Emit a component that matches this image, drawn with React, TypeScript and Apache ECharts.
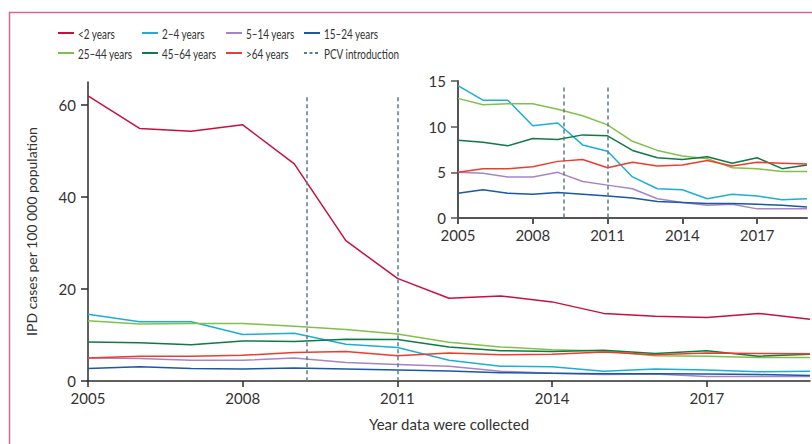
import React, { useEffect, useRef } from "react";
import * as echarts from "echarts";

// Invasive pneumococcal disease incidence by age group
const years = [2005, 2006, 2007, 2008, 2009, 2010, 2011, 2012, 2013, 2014, 2015, 2016, 2017, 2018, 2019];

const under2 = [62.0, 54.9, 54.3, 55.7, 47.2, 30.5, 22.3, 18.0, 18.5, 17.2, 14.7, 14.1, 13.8, 14.7, 13.4];
const age2to4 = [14.5, 12.9, 12.9, 10.1, 10.4, 8.0, 7.3, 4.5, 3.2, 3.1, 2.1, 2.6, 2.4, 2.0, 2.1];
const age5to14 = [5.0, 4.9, 4.5, 4.5, 5.0, 4.0, 3.6, 3.2, 2.1, 1.7, 1.4, 1.5, 1.0, 1.0, 1.0];
const age15to24 = [2.7, 3.1, 2.7, 2.6, 2.8, 2.6, 2.4, 2.2, 1.8, 1.7, 1.6, 1.6, 1.5, 1.4, 1.2];
const age25to44 = [13.1, 12.4, 12.5, 12.5, 11.9, 11.2, 10.2, 8.4, 7.4, 6.8, 6.5, 5.5, 5.4, 5.1, 5.1];
const age45to64 = [8.5, 8.3, 7.9, 8.7, 8.6, 9.1, 9.0, 7.4, 6.6, 6.4, 6.7, 6.0, 6.6, 5.4, 5.8];
const over64 = [5.0, 5.4, 5.4, 5.6, 6.2, 6.4, 5.5, 6.1, 5.7, 5.8, 6.3, 5.7, 6.1, 6.0, 5.9];

// Vaccine introduction dates (PCV7, then PCV13)
const pcvYears = [2009.25, 2011];

const xTicks = [2005, 2008, 2011, 2014, 2017];
const mainYTicks = [0, 20, 40, 60];

const groups = [
  { name: "<2 years", color: "#c8103e", values: under2, inset: false },
  { name: "2–4 years", color: "#1cafd6", values: age2to4, inset: true },
  { name: "5–14 years", color: "#a585c8", values: age5to14, inset: true },
  { name: "15–24 years", color: "#1b58a5", values: age15to24, inset: true },
  { name: "25–44 years", color: "#80c14a", values: age25to44, inset: true },
  { name: "45–64 years", color: "#0f7a45", values: age45to64, inset: true },
  { name: ">64 years", color: "#f03b2f", values: over64, inset: true },
];

const PCV_NAME = "PCV introduction";
const PCV_COLOR = "#5d7a8b";
const PCV_DASH = [4, 3];

// Legend: four columns of two entries each
const legendColumns = [
  ["<2 years", "25–44 years"],
  ["2–4 years", "45–64 years"],
  ["5–14 years", ">64 years"],
  ["15–24 years", PCV_NAME],
];

const FONT = "Lato, 'Open Sans', sans-serif";
const TEXT = "#333333";

function buildLegend() {
  const colX = [58, 142, 226, 304];
  const rowY = [33, 53];
  const elements: any[] = [];
  legendColumns.forEach((col, c) => {
    col.forEach((name, r) => {
      const g = groups.find((d) => d.name === name);
      const isPcv = name === PCV_NAME;
      const color = g ? g.color : PCV_COLOR;
      const x = colX[c];
      const y = rowY[r];
      elements.push({
        type: "line",
        silent: true,
        shape: { x1: x, y1: y, x2: x + 16, y2: y },
        style: {
          stroke: color,
          lineWidth: 2,
          lineDash: isPcv ? [3, 2.5] : null,
        },
      });
      elements.push({
        type: "text",
        silent: true,
        x: x + 20,
        y: y + 0.5,
        scaleX: 0.71,
        style: {
          text: name,
          fontFamily: FONT,
          fontSize: 14,
          fill: TEXT,
          verticalAlign: "middle",
          align: "left",
        },
      });
    });
  });
  return elements;
}

function App() {
  const ref = useRef<HTMLDivElement>(null);

  useEffect(() => {
    if (!ref.current) return;
    const chart = echarts.init(ref.current, undefined, { renderer: "svg" });

    const pairs = (vals: number[]) => years.map((y, i) => [y, vals[i]]);

    const lineSeries: any[] = [];
    groups.forEach((g) => {
      const base = {
        name: g.name,
        type: "line",
        data: pairs(g.values),
        symbol: "none",
        lineStyle: { color: g.color, width: 1.5 },
        itemStyle: { color: g.color },
        z: 3,
      };
      lineSeries.push({ ...base, xAxisIndex: 0, yAxisIndex: 0 });
      if (g.inset) lineSeries.push({ ...base, xAxisIndex: 1, yAxisIndex: 1 });
    });

    const pcvSeries = (axis: number, top: number) => ({
      name: PCV_NAME,
      type: "line",
      xAxisIndex: axis,
      yAxisIndex: axis,
      data: [],
      symbol: "none",
      lineStyle: { color: PCV_COLOR, width: 1.5, type: PCV_DASH },
      itemStyle: { color: PCV_COLOR },
      z: 2,
      markLine: {
        silent: true,
        symbol: "none",
        label: { show: false },
        lineStyle: { color: PCV_COLOR, width: 1.5, type: PCV_DASH },
        data: pcvYears.map((y) => [{ coord: [y, top] }, { coord: [y, 0] }]),
      },
    });

    const xAxisCommon = (gridIndex: number, axisColor: string, width: number) => ({
      type: "value",
      gridIndex,
      min: 2005,
      max: 2019,
      axisLine: { show: true, lineStyle: { color: axisColor, width } },
      axisTick: { show: true, customValues: xTicks, length: 6, lineStyle: { color: axisColor, width } },
      axisLabel: {
        customValues: xTicks,
        margin: 9,
        fontFamily: FONT,
        fontSize: 15,
        color: TEXT,
        formatter: (v: number) => String(v),
      },
      splitLine: { show: false },
    });

    chart.setOption({
      animation: false,
      backgroundColor: "#ffffff",
      graphic: [
        {
          type: "rect",
          silent: true,
          shape: { x: 9.5, y: 12.5, width: 900, height: 500 },
          style: { fill: "none", stroke: "#d6688b", lineWidth: 1.5 },
        },
        ...buildLegend(),
      ],
      grid: [
        { left: 88, right: 2, top: 82, bottom: 63 },
        { left: 458, right: 5, top: 81, bottom: 226 },
      ],
      xAxis: [
        {
          ...xAxisCommon(0, "#2b2b2b", 1.5),
          name: "Year data were collected",
          nameLocation: "middle",
          nameGap: 35,
          nameTextStyle: { fontFamily: FONT, fontSize: 15, color: TEXT },
        },
        xAxisCommon(1, "#555555", 2),
      ],
      yAxis: [
        {
          type: "value",
          gridIndex: 0,
          min: 0,
          max: 65,
          axisLine: { show: true, lineStyle: { color: "#2b2b2b", width: 1.5 } },
          axisTick: { show: true, customValues: mainYTicks, length: 7, lineStyle: { color: "#2b2b2b", width: 1.5 } },
          axisLabel: { customValues: mainYTicks, margin: 12, fontFamily: FONT, fontSize: 15, color: TEXT },
          splitLine: { show: false },
          name: "IPD cases per 100 000 population",
          nameLocation: "middle",
          nameGap: 50,
          nameTextStyle: { fontFamily: FONT, fontSize: 14, color: TEXT },
        },
        {
          type: "value",
          gridIndex: 1,
          min: 0,
          max: 15,
          interval: 5,
          axisLine: { show: true, lineStyle: { color: "#555555", width: 2 } },
          axisTick: { show: true, length: 7, lineStyle: { color: "#555555", width: 1.5 } },
          axisLabel: { margin: 12, fontFamily: FONT, fontSize: 15, color: TEXT },
          splitLine: { show: false },
        },
      ],
      series: [...lineSeries, pcvSeries(0, 61.7), pcvSeries(1, 14.3)],
    });

    return () => chart.dispose();
  }, []);

  return (
    <div
      ref={ref}
      style={{ position: "fixed", left: 0, top: 0, width: 812, height: 444, background: "#fff" }}
    />
  );
}

export default App;
